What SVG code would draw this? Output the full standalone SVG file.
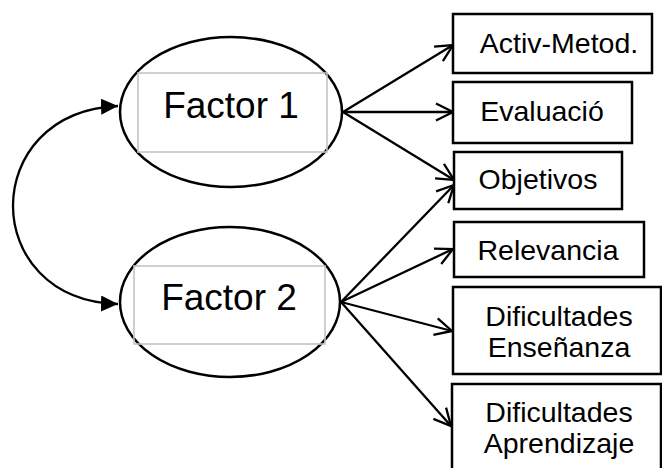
<svg xmlns="http://www.w3.org/2000/svg" width="662" height="468" viewBox="0 0 662 468">
<style>
.ell{fill:#fff;stroke:#000;stroke-width:2.5}
.inner{fill:none;stroke:#c4c4c4;stroke-width:1.6}
.box{fill:#fff;stroke:#000;stroke-width:2.5}
.big{font-family:"Liberation Sans",Arial,sans-serif;font-size:37px;fill:#000;text-anchor:middle}
.lbl{font-family:"Liberation Sans",Arial,sans-serif;font-size:28.5px;fill:#000;text-anchor:middle}
.c{fill:none;stroke:#000;stroke-width:2.3}
</style>
<defs>
<marker id="open" markerUnits="userSpaceOnUse" markerWidth="22" markerHeight="22" viewBox="0 0 22 22" refX="19" refY="11" orient="auto">
<path d="M2,2.5 L19,11 L2,19.5" fill="none" stroke="#000" stroke-width="2.3"/>
</marker>
<marker id="fill" markerUnits="userSpaceOnUse" markerWidth="18" markerHeight="16" viewBox="0 0 18 16" refX="17" refY="8" orient="auto-start-reverse">
<path d="M0,0 L17,8 L0,16 Z" fill="#000"/>
</marker>
</defs>
<rect width="662" height="468" fill="#fff"/>
<g id="connectors">
<path class="c" d="M118,106 C-22,112 -22,300 118,304" marker-start="url(#fill)" marker-end="url(#fill)"/>
<line class="c" x1="343" y1="112" x2="453" y2="45" marker-end="url(#open)"/>
<line class="c" x1="343" y1="112" x2="453" y2="112" marker-end="url(#open)"/>
<line class="c" x1="343" y1="112" x2="454" y2="180" marker-end="url(#open)"/>
<line class="c" x1="341" y1="302" x2="454" y2="185" marker-end="url(#open)"/>
<line class="c" x1="341" y1="302" x2="453" y2="249" marker-end="url(#open)"/>
<line class="c" x1="341" y1="302" x2="452" y2="331" marker-end="url(#open)"/>
<line class="c" x1="341" y1="302" x2="451" y2="426" marker-end="url(#open)"/>
</g>
<g id="factor1">
<ellipse class="ell" cx="231" cy="112" rx="111" ry="75"/>
<rect class="inner" x="138" y="73" width="189" height="79"/>
<text class="big" x="231" y="118">Factor 1</text>
</g>
<g id="factor2">
<ellipse class="ell" cx="230" cy="302" rx="110" ry="75"/>
<rect class="inner" x="134" y="266" width="191" height="78"/>
<text class="big" x="229" y="310">Factor 2</text>
</g>
<g id="activ">
<rect class="box" x="453" y="14" width="199" height="59"/>
<text class="lbl" x="559" y="53">Activ-Metod.</text>
</g>
<g id="evaluacio">
<rect class="box" x="453" y="82" width="179" height="61"/>
<text class="lbl" x="542" y="121">Evaluació</text>
</g>
<g id="objetivos">
<rect class="box" x="454" y="152" width="168" height="57"/>
<text class="lbl" x="538" y="189">Objetivos</text>
</g>
<g id="relevancia">
<rect class="box" x="454" y="222" width="190" height="55"/>
<text class="lbl" x="548" y="260">Relevancia</text>
</g>
<g id="dif-ens">
<rect class="box" x="453" y="287" width="208" height="87"/>
<text class="lbl" x="559" y="326">Dificultades</text>
<text class="lbl" x="559" y="357">Enseñanza</text>
</g>
<g id="dif-apr">
<rect class="box" x="452" y="384" width="209" height="95"/>
<text class="lbl" x="559" y="422">Dificultades</text>
<text class="lbl" x="559" y="453">Aprendizaje</text>
</g>
</svg>
